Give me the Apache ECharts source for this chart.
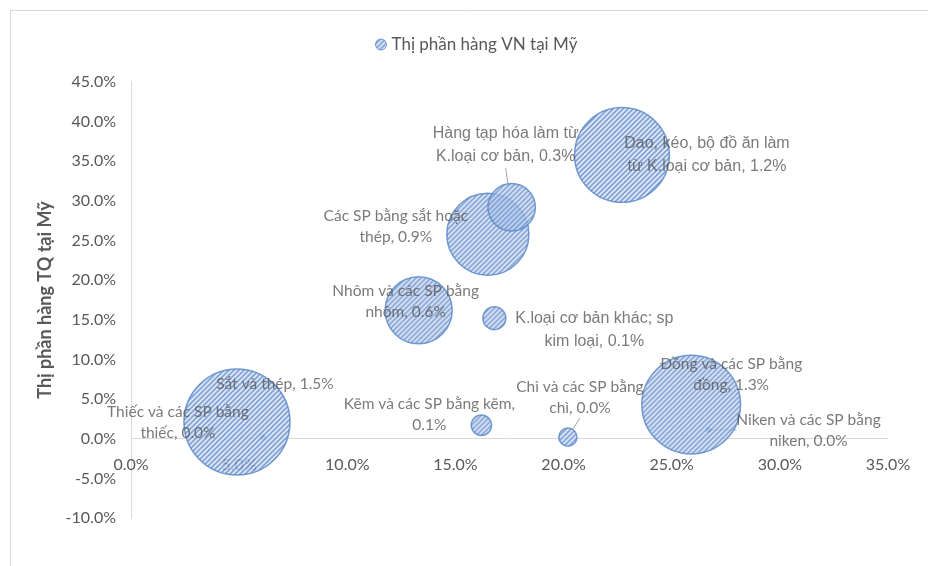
<!DOCTYPE html>
<html>
<head>
<meta charset="utf-8">
<script src="https://cdn.jsdelivr.net/npm/echarts@6/dist/echarts.min.js"></script>
<style>
  html, body { margin: 0; padding: 0; background: #fff; }
  #chart { width: 928px; height: 566px; }
</style>
</head>
<body>
<div id="chart"></div>
<script>
// Product groups
const names = [
  'Thiếc và các SP bằng thiếc',
  'Sắt và thép',
  'Kẽm và các SP bằng kẽm',
  'Chì và các SP bằng chì',
  'Niken và các SP bằng niken',
  'Đồng và các SP bằng đồng',
  'K.loại cơ bản khác; sp kim loại',
  'Nhôm và các SP bằng nhôm',
  'Các SP bằng sắt hoặc thép',
  'Hàng tạp hóa làm từ K.loại cơ bản',
  'Dao, kéo, bộ đồ ăn làm từ K.loại cơ bản'
];
// Horizontal axis values (%)
const xValues = [6.1, 4.9, 16.2, 20.2, 26.7, 25.9, 16.8, 13.3, 16.5, 17.6, 22.7];
// Thị phần hàng TQ tại Mỹ (%)
const cnShare = [0.2, 2.1, 1.7, 0.2, 1.1, 4.3, 15.2, 16.2, 25.8, 29.2, 35.8];
// Thị phần hàng VN tại Mỹ (%) – bubble size
const vnShare = [0.002, 1.5, 0.055, 0.044, 0.002, 1.3, 0.07, 0.6, 0.9, 0.3, 1.2];

const seriesName = 'Thị phần hàng VN tại Mỹ';
const yAxisTitle = 'Thị phần hàng TQ tại Mỹ';
const xTicks = { min: 0, max: 35, step: 5 };
const yTicks = { min: -10, max: 45, step: 5 };

// Label placement: [dx, dy] from bubble centre, words on the first line, font
const labelLayoutCfg = [
  { d: [-85, -15], wrap: 5 },
  { d: [38, -38], wrap: 0 },
  { d: [-52, -11], wrap: 6 },
  { d: [12, -40], wrap: 5, line: true },
  { d: [100, 0], wrap: 5, line: true },
  { d: [40, -30], wrap: 5 },
  { d: [100, 12], wrap: 5, arial: true },
  { d: [-13, -9], wrap: 5 },
  { d: [-92, -8], wrap: 5 },
  { d: [-6, -62], wrap: 5, arial: true, line: true },
  { d: [85, 0], wrap: 6, arial: true }
];

// Bubble area proportional to the size value
const maxSize = 1.5, maxDiameter = 106;
const diameter = s => Math.max(maxDiameter * Math.sqrt(Math.max(s, 0) / maxSize), 0.5);

// Diagonal hatch tile ("/" stripes on a pale blue ground)
function hatchTile() {
  const n = 5;
  const c = document.createElement('canvas');
  c.width = n; c.height = n;
  const g = c.getContext('2d');
  g.fillStyle = '#dce6f5';
  g.fillRect(0, 0, n, n);
  g.strokeStyle = '#6189cc';
  g.lineWidth = 1.7;
  g.beginPath();
  g.moveTo(-1, 1); g.lineTo(1, -1);
  g.moveTo(-1, n + 1); g.lineTo(n + 1, -1);
  g.moveTo(n - 1, n + 1); g.lineTo(n + 1, n - 1);
  g.stroke();
  return c;
}
const tile = hatchTile();
// Symbols are drawn from a unit path scaled by their size, so the pattern
// is scaled back to keep the stripes at screen resolution.
const hatchFor = d => ({ image: tile, repeat: 'repeat', scaleX: 2 / d, scaleY: 2 / d });

function labelText(i) {
  const words = (names[i] + ', ' + vnShare[i].toFixed(1) + '%').split(' ');
  const k = labelLayoutCfg[i].wrap;
  if (!k) return words.join(' ');
  return words.slice(0, k).join(' ') + '\n' + words.slice(k).join(' ');
}

const calibri = 'Lato, "Open Sans", sans-serif';
const arial = '"Liberation Sans", Arial, sans-serif';

const data = names.map((nm, i) => {
  const cfg = labelLayoutCfg[i];
  return {
    name: nm,
    value: [xValues[i], cnShare[i], vnShare[i]],
    itemStyle: { color: hatchFor(diameter(vnShare[i])) },
    label: {
      fontFamily: cfg.arial ? arial : calibri,
      fontSize: cfg.arial ? 16 : 15.5,
      lineHeight: cfg.arial ? 23 : 21
    },
    labelLine: { show: !!cfg.line }
  };
});

const grid = { left: 131, right: 40, top: 82, bottom: 48 };
const gridHeight = 566 - grid.top - grid.bottom;
// lift the horizontal axis (line and labels) to y = 0
const xAxisLift = (0 - yTicks.min) / (yTicks.max - yTicks.min) * gridHeight;

const chart = echarts.init(document.getElementById('chart'), null, { renderer: 'canvas' });
chart.setOption({
  animation: false,
  backgroundColor: '#fff',
  graphic: [{
    type: 'rect', left: 8, top: 8, z: -10,
    shape: { width: 940, height: 580 },
    style: { fill: 'none', stroke: '#d9d9d9', lineWidth: 1 }
  }],
  legend: {
    data: [seriesName],
    left: 370, top: 31,
    icon: 'circle', itemWidth: 11, itemHeight: 11, itemGap: 5,
    itemStyle: { color: { image: tile, repeat: 'repeat' }, borderColor: '#5584c6', borderWidth: 1 },
    textStyle: { fontFamily: calibri, fontSize: 17, color: '#595959' }
  },
  grid: grid,
  xAxis: {
    type: 'value', min: xTicks.min, max: xTicks.max, interval: xTicks.step,
    offset: -xAxisLift,
    axisLine: { onZero: false, lineStyle: { color: '#d9d9d9', width: 1 } },
    axisTick: { show: false },
    splitLine: { show: false },
    axisLabel: {
      margin: 18, color: '#595959', fontFamily: calibri, fontSize: 16,
      formatter: v => v.toFixed(1) + '%'
    }
  },
  yAxis: {
    type: 'value', min: yTicks.min, max: yTicks.max, interval: yTicks.step,
    name: yAxisTitle, nameLocation: 'middle', nameGap: 77, nameRotate: 90,
    nameTextStyle: { fontFamily: calibri, fontSize: 18, fontWeight: 'bold', color: '#595959' },
    axisLine: { show: true, lineStyle: { color: '#d9d9d9', width: 1 } },
    axisTick: { show: false },
    splitLine: { show: false },
    axisLabel: {
      margin: 15, color: '#595959', fontFamily: calibri, fontSize: 16,
      formatter: v => v.toFixed(1) + '%'
    }
  },
  series: [{
    name: seriesName,
    type: 'scatter',
    symbol: 'circle',
    symbolSize: v => diameter(v[2]),
    itemStyle: { color: '#7d9fd6', borderColor: '#5584c6', borderWidth: 1.5 },
    label: {
      show: true, position: 'inside', color: '#595959', align: 'center',
      formatter: p => labelText(p.dataIndex)
    },
    labelLine: { show: false, lineStyle: { color: '#a6a6a6', width: 1 } },
    labelLayout: p => {
      const d = labelLayoutCfg[p.dataIndex].d;
      return { dx: d[0], dy: d[1] };
    },
    emphasis: { disabled: true },
    data: data
  }]
});
</script>
</body>
</html>
